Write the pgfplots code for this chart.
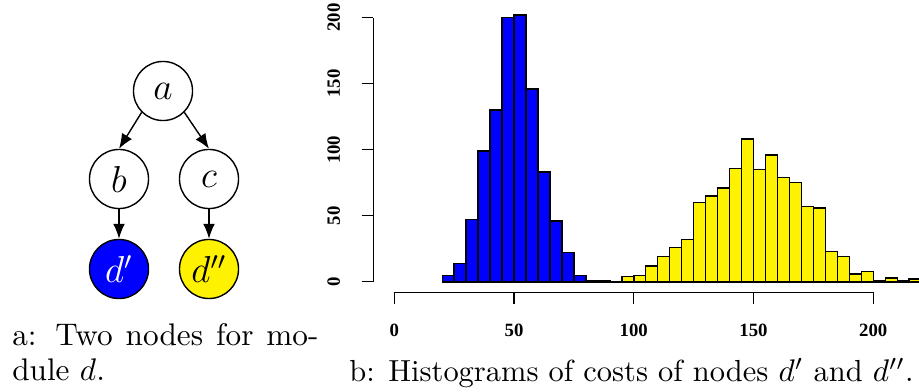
\documentclass[border=0pt]{standalone}
\usepackage{fontspec}
\usepackage{pgfplots}
\pgfplotsset{compat=1.18}
\usetikzlibrary{arrows.meta}
\newfontfamily\tickfont{Liberation Serif}
\begin{document}
\begin{tikzpicture}
% ---- tree diagram (a) ----
\begin{scope}[every node/.style={circle, draw, line width=0.45pt, minimum size=18.9pt, inner sep=0pt, font=\large}]
\node (a) at (52.16pt,-29.12pt) {$a$};
\node (b) at (38.08pt,-57.28pt) {$b$};
\node (c) at (66.88pt,-57.28pt) {$c$};
\node[fill=blue, text=white] (d1) at (38.08pt,-86.08pt) {$d'$};
\node[fill=yellow] (d2) at (66.88pt,-86.08pt) {$d''$};
\end{scope}
\begin{scope}[line width=0.45pt, -{Latex[length=4.8pt,width=3.8pt]}]
\draw (a.south west) -- (b.north);
\draw (a.south east) -- (c.north);
\draw (b.south) -- (d1.north);
\draw (c.south) -- (d2.north);
\end{scope}
\node[anchor=base west, inner sep=0pt] at (3.73pt,-110.4pt) {\makebox[98pt][s]{a: Two nodes for mo-}};
\node[anchor=base west, inner sep=0pt] at (3.73pt,-121.9pt) {dule $d$.};
% ---- histogram (b) ----
\begin{axis}[
  at={(119.46pt,-93.56pt)}, anchor=south west,
  scale only axis, width=174.62pt, height=92.15pt,
  xmin=-8.77, xmax=219.1, ymin=-8, ymax=210,
  axis line style={draw=none},
  tick align=outside, xtick pos=bottom, ytick pos=left,
  xtick={0,50,100,150,200}, ytick={0,50,100,150,200},
  major tick length=3.74pt,
  tick style={black, line width=0.4pt},
  clip mode=individual,
  /pgf/number format/assume math mode=true,
  ticklabel style={font=\fontsize{6}{7}\selectfont\tickfont\bfseries},
  yticklabel style={rotate=90, anchor=south},
  xticklabel shift=2.9pt, yticklabel shift=3.4pt,
]
\addplot[ybar interval, fill=blue, draw=black, line width=0.45pt] coordinates {
(20,5) (25,14) (30,47) (35,99) (40,130) (45,200) (50,202) (55,146)
(60,83) (65,46) (70,22) (75,5) (80,0)};
\addplot[ybar interval, fill=yellow, draw=black, line width=0.45pt] coordinates {
(80,1) (85,1) (90,0) (95,4) (100,5) (105,12) (110,19) (115,26) (120,32)
(125,60) (130,65) (135,71) (140,86) (145,108) (150,85) (155,96) (160,79)
(165,75) (170,57) (175,56) (180,23) (185,19) (190,6) (195,8) (200,1)
(205,3) (210,1) (215,2) (220,0)};
\draw[line width=0.4pt] (axis cs:0,-8) -- (axis cs:200,-8);
\draw[line width=0.4pt] (axis cs:-8.77,0) -- (axis cs:-8.77,200);
\end{axis}
\node[anchor=base west, inner sep=0pt, font=\fontsize{9.75}{11}\selectfont] at (111.6pt,-122.2pt) {b: Histograms of costs of nodes $d'$ and $d''$.};
\pgfresetboundingbox
\useasboundingbox (0,0) rectangle (294.08pt,-125.44pt);
\end{tikzpicture}
\end{document}
